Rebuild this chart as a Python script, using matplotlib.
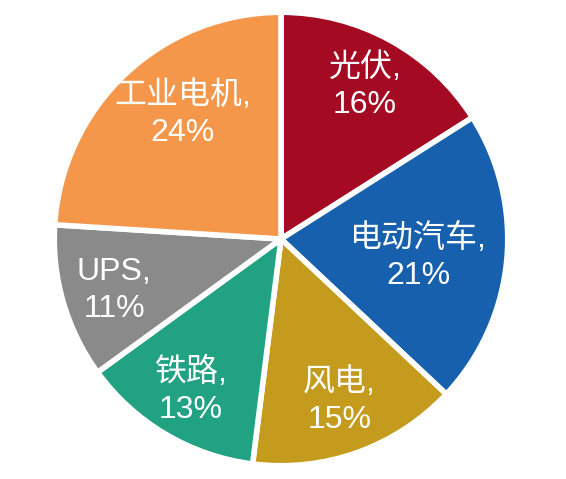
import numpy as np
import matplotlib
matplotlib.use('Agg')
from matplotlib import pyplot as plt

plt.rcParams['font.family'] = ['Liberation Sans', 'Noto Sans CJK SC', 'DejaVu Sans']

labels = ['光伏', '电动汽车', '风电', '铁路', 'UPS', '工业电机']
shares = [16, 21, 15, 13, 11, 24]
colors = ['#A50A23', '#1660AD', '#C59B1E', '#20A283', '#8A8A8A', '#F5974A']
# label placement: distance from centre (fraction of radius) and angle nudge (deg)
label_r = [0.77, 0.61, 0.76, 0.78, 0.77, 0.70]
label_da = [0, -2, 0, 0, 1, -5]

fig = plt.figure(figsize=(5.66, 4.79), dpi=100)
# pie centre ~(281, 239) px, radius ~227 px
ax = fig.add_axes([(281 - 229) / 566, (479 - 239 - 229) / 479, 458 / 566, 458 / 479])

wedges, _ = ax.pie(shares, colors=colors, startangle=90, counterclock=False,
                   radius=1.0, wedgeprops=dict(edgecolor='white', linewidth=4))

for w, lab, s, r, da in zip(wedges, labels, shares, label_r, label_da):
    ang = np.radians((w.theta1 + w.theta2) / 2 + da)
    x, y = r * np.cos(ang), r * np.sin(ang)
    ax.text(x, y, f'{lab},\n{s}%', ha='center', va='center', color='white',
            fontsize=23, linespacing=1.3)

ax.set_xlim(-1.01, 1.01)
ax.set_ylim(-1.01, 1.01)
ax.set_aspect('equal')
ax.axis('off')

fig.savefig('out.png', dpi=100)
